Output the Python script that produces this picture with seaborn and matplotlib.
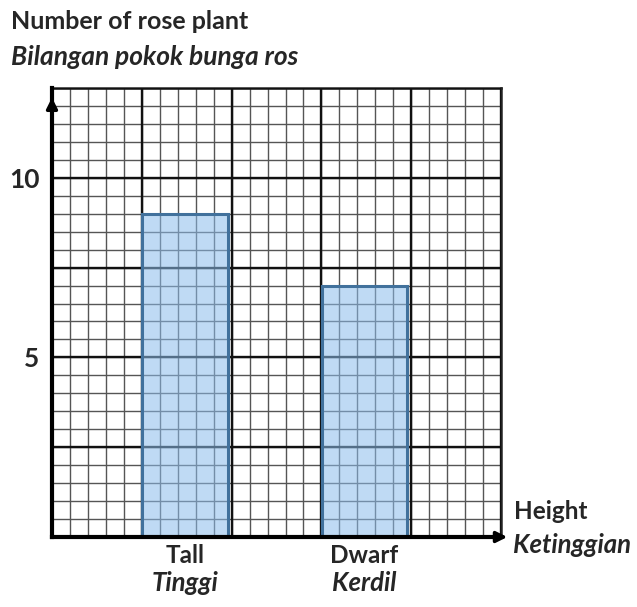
import numpy as np
import pandas as pd
import matplotlib
matplotlib.use('Agg')
import matplotlib.pyplot as plt
from matplotlib.ticker import FixedLocator
import seaborn as sns

# --- Data ---
categories = ['Tall', 'Dwarf']
categories_ms = ['Tinggi', 'Kerdil']
counts = [9, 7]
y_ticks = [5, 10]

df = pd.DataFrame({'height': categories, 'count': counts})

sns.set_style('white')
plt.rcParams['font.family'] = ['Lato', 'DejaVu Sans']

fig = plt.figure(figsize=(6.37, 6.07), dpi=100)
ax = fig.add_axes([0.0816, 0.1153, 0.705, 0.7397])

sns.barplot(data=df, x='height', y='count', order=categories, width=0.475,
            color='#9dc3e6', edgecolor='#41719c', linewidth=2.2, ax=ax)
# semi-transparent fill so the graph paper shows through, edge stays solid
for p in ax.patches:
    p.set_facecolor((0.55, 0.74, 0.92, 0.55))
    p.set_edgecolor('#41719c')
    p.set_zorder(4)

# --- Axis limits and graph-paper grid ---
x0, x1 = -0.74, 1.76
ax.set_xlim(x0, x1)
ax.set_ylim(0, 12.5)

ax.xaxis.set_major_locator(FixedLocator(range(len(categories))))
ax.yaxis.set_major_locator(FixedLocator(y_ticks))

ax.grid(False)
# minor grid
for xv in np.linspace(x0, x1, 26):
    ax.axvline(xv, color='#555555', lw=1.0, zorder=2)
for yv in np.linspace(0, 12.5, 26):
    ax.axhline(yv, color='#555555', lw=1.0, zorder=2)
# major grid
for xv in np.linspace(x0, x1, 6):
    ax.axvline(xv, color='#111111', lw=1.7, zorder=3)
for yv in np.linspace(0, 12.5, 6):
    ax.axhline(yv, color='#111111', lw=1.7, zorder=3)

for s in ['top', 'right']:
    ax.spines[s].set_linewidth(1.8)
    ax.spines[s].set_color('#222222')
for s in ['left', 'bottom']:
    ax.spines[s].set_linewidth(3)
    ax.spines[s].set_color('black')
    ax.spines[s].set_zorder(5)

# arrows on axes
ax.annotate('', xy=(0, 0.985), xytext=(0, 0.9), xycoords='axes fraction',
            arrowprops=dict(arrowstyle='-|>', color='black', lw=2.5, mutation_scale=16), zorder=6)
ax.annotate('', xy=(1.02, 0), xytext=(0.95, 0), xycoords='axes fraction',
            arrowprops=dict(arrowstyle='-|>', color='black', lw=2.5, mutation_scale=16),
            annotation_clip=False, zorder=6)

# --- Ticks and labels ---
ax.tick_params(axis='both', which='both', length=0)
ax.set_xticklabels(categories, fontsize=17.5, fontweight='bold')
ax.tick_params(axis='x', pad=5)
ax.set_yticklabels([str(v) for v in y_ticks], fontsize=19, fontweight='bold')
ax.tick_params(axis='y', pad=9)
ax.set_xlabel('')
ax.set_ylabel('')

for i, name in enumerate(categories_ms):
    ax.annotate(name, xy=(i, 0), xycoords='data', xytext=(0, -33), textcoords='offset points',
                ha='center', va='center', fontsize=18.5, fontweight='bold', style='italic',
                annotation_clip=False)

fig.text(0.018, 0.964, 'Number of rose plant', fontsize=18, fontweight='bold', va='center')
fig.text(0.018, 0.906, 'Bilangan pokok bunga ros', fontsize=19, fontweight='bold',
         style='italic', va='center')
fig.text(0.807, 0.158, 'Height', fontsize=17.5, fontweight='bold', va='center')
fig.text(0.805, 0.102, 'Ketinggian', fontsize=18.5, fontweight='bold', style='italic', va='center')

fig.savefig('out.png', dpi=100)
